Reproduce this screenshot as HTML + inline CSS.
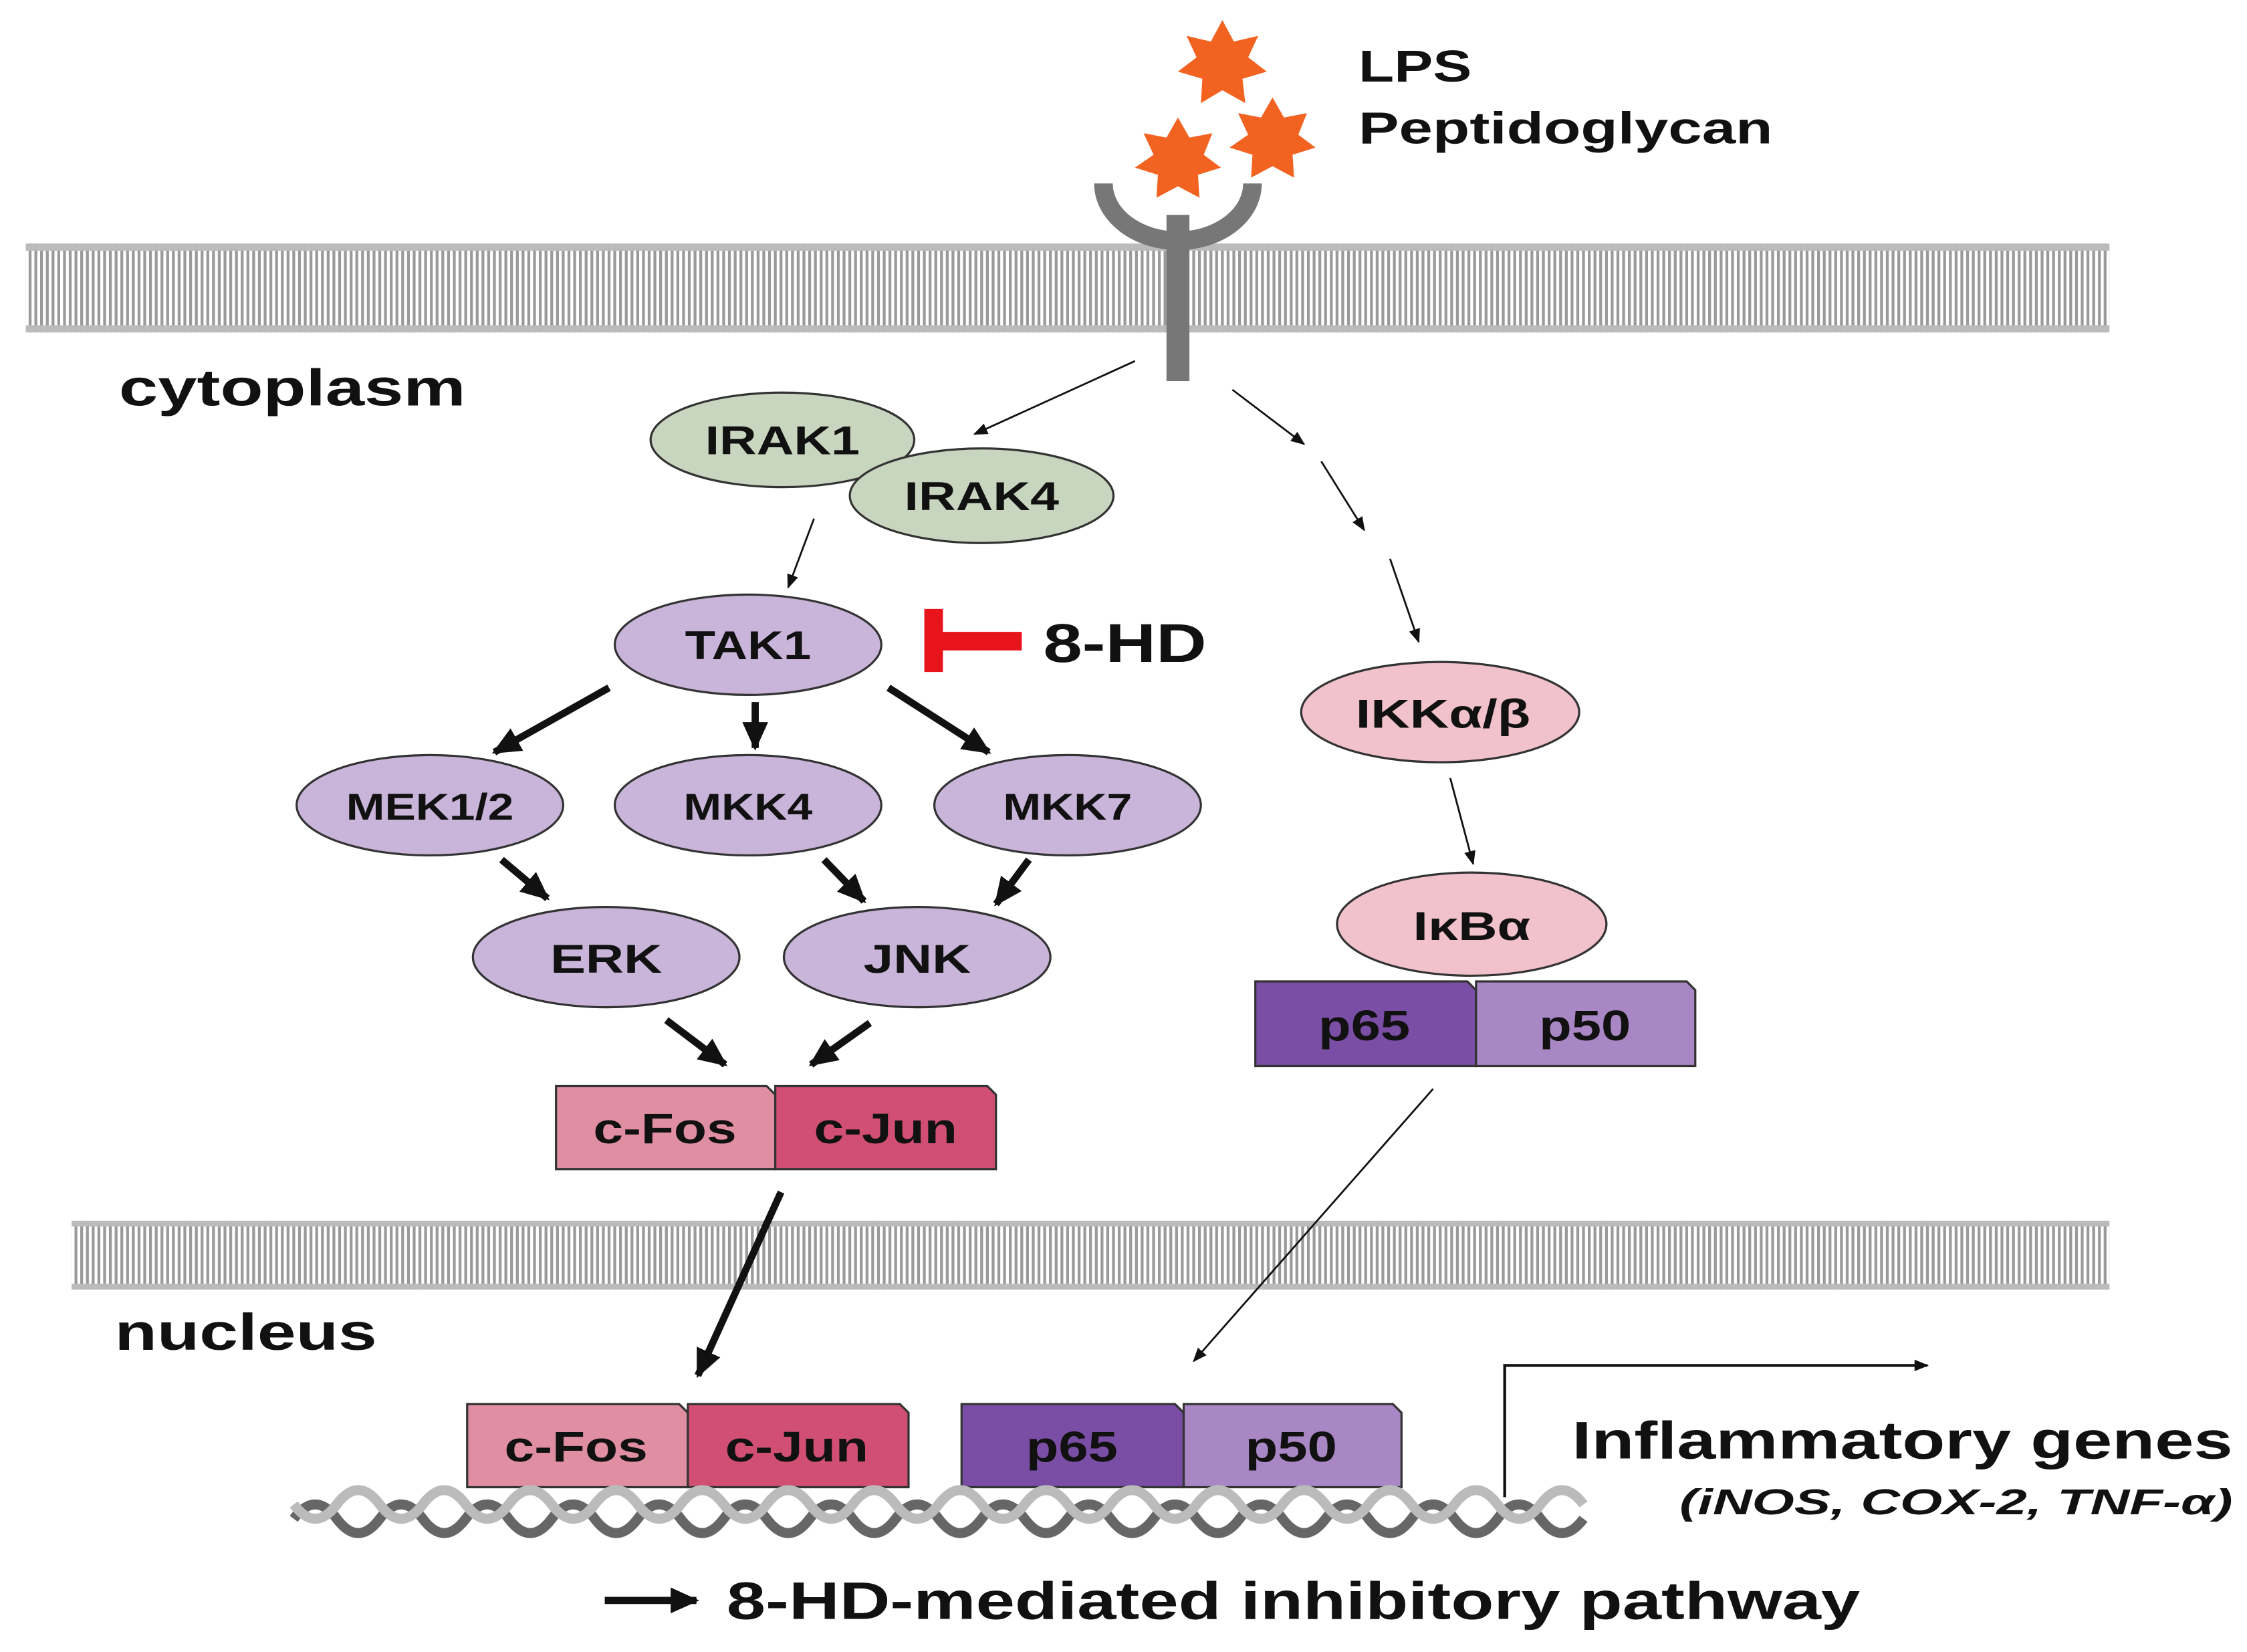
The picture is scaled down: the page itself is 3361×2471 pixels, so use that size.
<!DOCTYPE html>
<html><head><meta charset="utf-8"><style>
html,body{margin:0;padding:0;background:#fff;width:3361px;height:2471px;overflow:hidden}
svg{display:block}
text{font-family:"Liberation Sans",Arial,sans-serif;font-weight:bold;fill:#111}
</style></head><body>
<svg width="3361" height="2471" viewBox="0 0 1568 1153" preserveAspectRatio="none" xmlns="http://www.w3.org/2000/svg">
<defs>
<pattern id="mem" width="4" height="10" patternUnits="userSpaceOnUse">
<rect width="4" height="10" fill="#fff"/><rect x="0" width="2" height="10" fill="#9a9a9a"/>
</pattern>
<marker id="ah" markerWidth="10" markerHeight="10" refX="9" refY="5" orient="auto" markerUnits="userSpaceOnUse"><path d="M0,1 L10,5 L0,9 z" fill="#111"/></marker>
<marker id="ahb" markerWidth="22" markerHeight="22" refX="18" refY="11" orient="auto" markerUnits="userSpaceOnUse"><path d="M0,2 L20,11 L0,20 z" fill="#111"/></marker>
</defs>
<rect x="18" y="170" width="1454" height="62" fill="url(#mem)"/>
<rect x="18" y="170" width="1454" height="5" fill="#bbb"/><rect x="18" y="227" width="1454" height="5" fill="#bbb"/>
<rect x="50" y="852" width="1422" height="48" fill="url(#mem)"/>
<rect x="50" y="852" width="1422" height="4" fill="#bbb"/><rect x="50" y="896" width="1422" height="4" fill="#bbb"/>
<rect x="814" y="150" width="16" height="116" fill="#777"/>
<path d="M770,128 A52,40 0 0 0 874,128" fill="none" stroke="#777" stroke-width="13"/>
<g fill="#f26322">
<polygon points="853,14 861,29 878,25 871,40 884,50 867,55 869,72 853,63 838,72 839,55 822,50 835,40 828,25 845,29"/>
<polygon points="822,82 830,96 846,93 840,108 852,117 836,122 837,138 822,130 807,138 808,122 792,117 805,108 798,93 814,96"/>
<polygon points="888,68 896,82 912,79 906,94 918,103 902,108 903,124 888,116 873,124 874,108 858,103 871,94 864,79 880,82"/>
</g>
<text x="948" y="57" font-size="31" textLength="79" lengthAdjust="spacingAndGlyphs">LPS</text>
<text x="948" y="100" font-size="31" textLength="289" lengthAdjust="spacingAndGlyphs">Peptidoglycan</text>
<text x="83" y="283" font-size="36" textLength="242" lengthAdjust="spacingAndGlyphs">cytoplasm</text>
<text x="80" y="942" font-size="36" textLength="183" lengthAdjust="spacingAndGlyphs">nucleus</text>
<g stroke="#111" stroke-width="1.3" fill="none" marker-end="url(#ah)">
<line x1="792" y1="252" x2="680" y2="303"/>
<line x1="860" y1="272" x2="910" y2="310"/>
<line x1="922" y1="322" x2="952" y2="370"/>
<line x1="970" y1="390" x2="990" y2="448"/>
<line x1="568" y1="362" x2="550" y2="410"/>
<line x1="1012" y1="543" x2="1028" y2="603"/>
<line x1="1000" y1="760" x2="833" y2="950"/>
</g>
<g stroke="#333" stroke-width="1.5">
<ellipse cx="546" cy="307" rx="92" ry="33" fill="#c9d6bf"/>
<ellipse cx="685" cy="346" rx="92" ry="33" fill="#c9d6bf"/>
<ellipse cx="522" cy="450" rx="93" ry="35" fill="#c9b5da"/>
<ellipse cx="300" cy="562" rx="93" ry="35" fill="#c9b5da"/>
<ellipse cx="522" cy="562" rx="93" ry="35" fill="#c9b5da"/>
<ellipse cx="745" cy="562" rx="93" ry="35" fill="#c9b5da"/>
<ellipse cx="423" cy="668" rx="93" ry="35" fill="#c9b5da"/>
<ellipse cx="640" cy="668" rx="93" ry="35" fill="#c9b5da"/>
<ellipse cx="1005" cy="497" rx="97" ry="35" fill="#f1c2cb"/>
<ellipse cx="1027" cy="645" rx="94" ry="36" fill="#f1c2cb"/>
</g>
<g font-size="28" text-anchor="middle" lengthAdjust="spacingAndGlyphs">
<text x="546" y="317" textLength="108" lengthAdjust="spacingAndGlyphs">IRAK1</text>
<text x="685" y="356" textLength="108" lengthAdjust="spacingAndGlyphs">IRAK4</text>
<text x="522" y="460" textLength="88" lengthAdjust="spacingAndGlyphs">TAK1</text>
<text x="300" y="572" font-size="26" textLength="117" lengthAdjust="spacingAndGlyphs">MEK1/2</text>
<text x="522" y="572" font-size="26" textLength="90" lengthAdjust="spacingAndGlyphs">MKK4</text>
<text x="745" y="572" font-size="26" textLength="90" lengthAdjust="spacingAndGlyphs">MKK7</text>
<text x="423" y="679" textLength="78" lengthAdjust="spacingAndGlyphs">ERK</text>
<text x="640" y="679" textLength="75" lengthAdjust="spacingAndGlyphs">JNK</text>
<text x="1007" y="508" textLength="122" lengthAdjust="spacingAndGlyphs">IKKα/β</text>
<text x="1027" y="656" textLength="82" lengthAdjust="spacingAndGlyphs">IκBα</text>
</g>
<rect x="645" y="425" width="13" height="44" fill="#e8141c"/>
<rect x="657" y="441" width="56" height="13" fill="#e8141c"/>
<text x="728" y="462" font-size="38" textLength="114" lengthAdjust="spacingAndGlyphs">8-HD</text>
<g stroke="#111" stroke-width="5" marker-end="url(#ahb)">
<line x1="425" y1="480" x2="345" y2="525"/>
<line x1="527" y1="490" x2="527" y2="522"/>
<line x1="620" y1="480" x2="690" y2="525"/>
<line x1="350" y1="600" x2="382" y2="627"/>
<line x1="575" y1="600" x2="603" y2="629"/>
<line x1="718" y1="600" x2="695" y2="631"/>
<line x1="465" y1="712" x2="506" y2="743"/>
<line x1="607" y1="714" x2="566" y2="743"/>
<line x1="545" y1="832" x2="487" y2="960"/>
<line x1="422" y1="1117" x2="486" y2="1117"/>
</g>
<g stroke="#333" stroke-width="1.5">
<path d="M388,758 H535 L541,764 V816 H388 Z" fill="#e08fa3"/>
<path d="M541,758 H689 L695,764 V816 H541 Z" fill="#d04f73"/>
<path d="M876,685 H1024 L1030,691 V744 H876 Z" fill="#7b4ea6"/>
<path d="M1030,685 H1177 L1183,691 V744 H1030 Z" fill="#a987c5"/>
<path d="M326,980 H474 L480,986 V1038 H326 Z" fill="#e08fa3"/>
<path d="M480,980 H628 L634,986 V1038 H480 Z" fill="#d04f73"/>
<path d="M671,980 H820 L826,986 V1038 H671 Z" fill="#7b4ea6"/>
<path d="M826,980 H972 L978,986 V1038 H826 Z" fill="#a987c5"/>
</g>
<g font-size="30" text-anchor="middle">
<text x="464" y="798" textLength="100" lengthAdjust="spacingAndGlyphs">c-Fos</text><text x="618" y="798" textLength="100" lengthAdjust="spacingAndGlyphs">c-Jun</text>
<text x="952" y="726" textLength="64" lengthAdjust="spacingAndGlyphs">p65</text><text x="1106" y="726" textLength="64" lengthAdjust="spacingAndGlyphs">p50</text>
<text x="402" y="1020" textLength="100" lengthAdjust="spacingAndGlyphs">c-Fos</text><text x="556" y="1020" textLength="100" lengthAdjust="spacingAndGlyphs">c-Jun</text>
<text x="748" y="1020" textLength="64" lengthAdjust="spacingAndGlyphs">p65</text><text x="901" y="1020" textLength="64" lengthAdjust="spacingAndGlyphs">p50</text>
</g>
<g stroke-width="7">
<path d="M205,1060 q15,-20 30,0 t30,0 t30,0 t30,0 t30,0 t30,0 t30,0 t30,0 t30,0 t30,0 t30,0 t30,0 t30,0 t30,0 t30,0 t30,0 t30,0 t30,0 t30,0 t30,0 t30,0 t30,0 t30,0 t30,0 t30,0 t30,0 t30,0 t30,0 t30,0 t30,0" fill="none" stroke="#666"/>
<path d="M205,1050 q15,20 30,0 t30,0 t30,0 t30,0 t30,0 t30,0 t30,0 t30,0 t30,0 t30,0 t30,0 t30,0 t30,0 t30,0 t30,0 t30,0 t30,0 t30,0 t30,0 t30,0 t30,0 t30,0 t30,0 t30,0 t30,0 t30,0 t30,0 t30,0 t30,0 t30,0" fill="none" stroke="#bbb"/>
</g>
<path d="M1050,1045 V953 H1345" fill="none" stroke="#111" stroke-width="2" marker-end="url(#ah)"/>
<text x="1097" y="1018" font-size="37" textLength="461" lengthAdjust="spacingAndGlyphs">Inflammatory genes</text>
<text x="1172" y="1057" font-size="25" font-style="italic" textLength="386" lengthAdjust="spacingAndGlyphs">(iNOS, COX-2, TNF-α)</text>
<text x="507" y="1130" font-size="37" textLength="791" lengthAdjust="spacingAndGlyphs">8-HD-mediated inhibitory pathway</text>
</svg>
</body></html>
